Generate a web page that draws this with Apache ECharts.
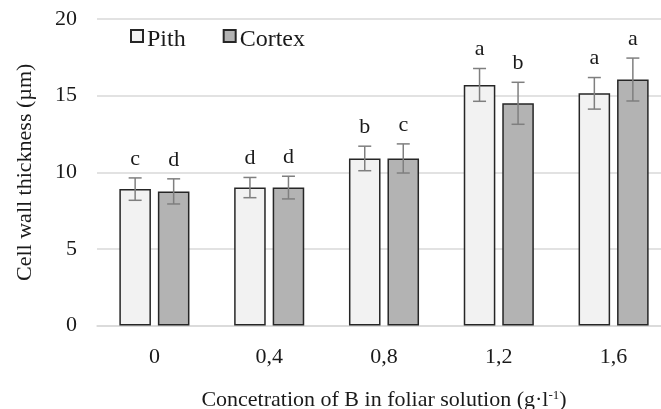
<!DOCTYPE html>
<html>
<head>
<meta charset="utf-8">
<script src="https://cdn.jsdelivr.net/npm/echarts@6/dist/echarts.min.js"></script>
<style>html,body{margin:0;padding:0;background:#fff}#c{width:661px;height:409px}</style>
</head>
<body>
<div id="c"></div>
<script>
var categories = ['0', '0,4', '0,8', '1,2', '1,6'];
var pith = [8.9, 9.0, 10.9, 15.7, 15.15];
var cortex = [8.75, 9.0, 10.9, 14.5, 16.05];
var pithErr = [0.73, 0.66, 0.8, 1.07, 1.03];
var cortexErr = [0.82, 0.74, 0.95, 1.37, 1.4];
var pithLetters = ['c', 'd', 'b', 'a', 'a'];
var cortexLetters = ['d', 'd', 'c', 'b', 'a'];
var yTicks = [0, 5, 10, 15, 20];

var FONT = '"Liberation Serif", "Times New Roman", serif';
var BAR_PCT = 0.275, GAP_PCT = 0.22;

function errSeries(name, vals, errs, letters, side) {
  return {
    type: 'custom',
    name: name + ' err',
    z: 5,
    data: vals.map(function (v, i) { return [i, v, errs[i]]; }),
    renderItem: function (params, api) {
      var i = api.value(0), v = api.value(1), e = api.value(2);
      var letter = letters[i];
      var band = api.size([1, 0])[0];
      var bw = band * BAR_PCT, gap = bw * GAP_PCT;
      var c = api.coord([i, v]);
      var x = c[0] + side * (gap / 2 + bw / 2);
      var top = api.coord([i, v + e])[1];
      var bot = api.coord([i, v - e])[1];
      var cap = 6.5;
      var st = { stroke: '#7f7f7f', lineWidth: 1.5 };
      return {
        type: 'group',
        children: [
          { type: 'line', shape: { x1: x, y1: top, x2: x, y2: bot }, style: st },
          { type: 'line', shape: { x1: x - cap, y1: top, x2: x + cap, y2: top }, style: st },
          { type: 'line', shape: { x1: x - cap, y1: bot, x2: x + cap, y2: bot }, style: st },
          { type: 'text', style: { text: letter, x: x, y: top - 8, textAlign: 'center', textVerticalAlign: 'bottom', font: '22px ' + FONT, fill: '#1a1a1a' } }
        ]
      };
    }
  };
}

var chart = echarts.init(document.getElementById('c'));
chart.setOption({
  animation: false,
  backgroundColor: '#fff',
  textStyle: { fontFamily: FONT },
  grid: { left: 97, width: 574, top: 19, height: 306.5, containLabel: false, outerBoundsMode: 'none' },
  legend: {
    data: ['Pith', 'Cortex'],
    left: 125, top: 23,
    icon: 'path://M0,0H12V12H0ZM12,20',
    itemWidth: 12, itemHeight: 20, itemGap: 37,
    textStyle: { fontFamily: FONT, fontSize: 24, color: '#1a1a1a', padding: [0, 0, 0, -1] }
  },
  xAxis: {
    type: 'category',
    data: categories,
    axisLine: { show: true, lineStyle: { color: '#d9d9d9', width: 1.5 } },
    axisTick: { show: false },
    axisLabel: { fontSize: 22, color: '#1a1a1a', margin: 21, fontFamily: FONT },
    name: 'Concetration of B in foliar solution (g·l{sup|-1})',
    nameLocation: 'middle',
    nameGap: 64,
    nameTextStyle: {
      fontSize: 22, color: '#1a1a1a', fontFamily: FONT,
      rich: { sup: { fontSize: 13, fontFamily: FONT, color: '#1a1a1a', verticalAlign: 'top' } }
    }
  },
  yAxis: {
    type: 'value',
    min: yTicks[0], max: yTicks[yTicks.length - 1], interval: 5,
    axisLine: { show: false },
    axisTick: { show: false },
    splitLine: { lineStyle: { color: '#d9d9d9', width: 1.5 } },
    axisLabel: { fontSize: 22, color: '#1a1a1a', margin: 20, fontFamily: FONT },
    name: 'Cell wall thickness (µm)',
    nameLocation: 'middle',
    nameGap: 61,
    nameRotate: 90,
    nameTextStyle: { fontSize: 22, color: '#1a1a1a', fontFamily: FONT }
  },
  series: [
    {
      type: 'bar', name: 'Pith', data: pith,
      barWidth: (BAR_PCT * 100) + '%', barGap: (GAP_PCT * 100) + '%',
      itemStyle: { color: '#f2f2f2', borderColor: '#262626', borderWidth: 1.5 }
    },
    {
      type: 'bar', name: 'Cortex', data: cortex,
      barWidth: (BAR_PCT * 100) + '%', barGap: (GAP_PCT * 100) + '%',
      itemStyle: { color: '#b3b3b3', borderColor: '#262626', borderWidth: 1.5 }
    },
    errSeries('Pith', pith, pithErr, pithLetters, -1),
    errSeries('Cortex', cortex, cortexErr, cortexLetters, 1)
  ]
});
</script>
</body>
</html>
